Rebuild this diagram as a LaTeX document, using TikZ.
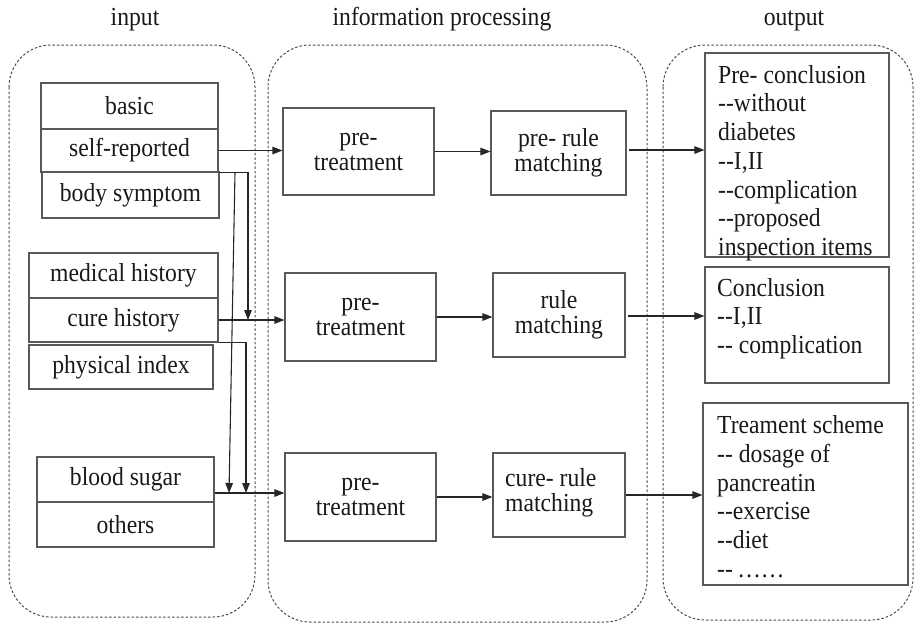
\documentclass[tikz,border=0pt]{standalone}
\usepackage{fontspec}
\setmainfont{Liberation Serif}[FakeStretch=0.91, Ligatures=TeXOff]
\usetikzlibrary{arrows.meta,calc}
\begin{document}
\begin{tikzpicture}[x=1pt,y=-1pt,
  font=\fontsize{26}{26}\selectfont,
  container/.style={draw=black!70, dash pattern=on 2.5pt off 2pt, line width=1pt, rounded corners=42pt},
  box/.style={draw=black!65, line width=1.1pt, inner sep=0pt, text=black!90},
  procbox/.style={box, align=center, font=\fontsize{26}{25}\selectfont},
  outtext/.style={anchor=north west, inner sep=0pt, align=left, text=black!90, font=\fontsize{26}{28.7}\selectfont},
  title/.style={anchor=base, inner sep=0pt, text=black!90},
  arr/.style={draw=black!85, line width=1.1pt, -{Triangle[length=10pt,width=7.5pt]}},
  ln/.style={draw=black!85, line width=1.1pt}
]
\useasboundingbox (0,0) rectangle (915,625);

% titles
\node[title] (tin) at (135,25) {input};
\node[title] (tproc) at (442,25) {information processing};
\node[title] (tout) at (794,25) {output};

% containers
\draw[container] (9,45) rectangle (255,617);
\draw[container] (268,45) rectangle (647,622);
\draw[container] (663,45) rectangle (913,620);

% input boxes
\node[box, minimum width=177pt, minimum height=46pt] (basic) at (129.5,106) {basic};
\node[box, minimum width=177pt, minimum height=43pt] (self) at (129.5,150.5) {self-reported};
\node[box, minimum width=177pt, minimum height=46pt] (body) at (130.5,195) {body symptom};
\node[box, minimum width=189pt, minimum height=45pt] (medical) at (123.5,275.5) {medical history};
\node[box, minimum width=189pt, minimum height=44pt] (cure) at (123.5,320) {cure history};
\node[box, minimum width=184pt, minimum height=44pt] (phys) at (121,367) {physical index};
\node[box, minimum width=177pt, minimum height=45pt] (blood) at (125.5,479.5) {blood sugar};
\node[box, minimum width=177pt, minimum height=45pt] (others) at (125.5,524.5) {others};

% processing boxes
\node[procbox, minimum width=151pt, minimum height=87pt] (pt1) at (358.5,151.5) {pre-\\treatment};
\node[procbox, minimum width=135pt, minimum height=84pt] (pr1) at (558.5,153) {pre- rule\\matching};
\node[procbox, minimum width=151pt, minimum height=88pt] (pt2) at (360.5,317) {pre-\\treatment};
\node[procbox, minimum width=132pt, minimum height=84pt] (rm2) at (559,315) {rule\\matching};
\node[procbox, minimum width=151pt, minimum height=88pt] (pt3) at (360.5,497) {pre-\\treatment};
\node[box, minimum width=132pt, minimum height=84pt] (cr3) at (559,495) {};
\node[outtext, anchor=west, font=\fontsize{26}{25}\selectfont] (cr3t) at (505,493) {cure- rule\\matching};

% output boxes
\node[box, minimum width=184pt, minimum height=204pt] (pc) at (797,155) {};
\node[box, minimum width=184pt, minimum height=116pt] (cc) at (797,325) {};
\node[box, minimum width=205pt, minimum height=182pt] (ts) at (805.5,494) {};
\node[outtext] (pct) at (718,65) {Pre- conclusion\\--without\\diabetes\\--I,II\\--complication\\--proposed\\inspection items};
\node[outtext] (cct) at (717,278) {Conclusion\\--I,II\\-- complication};
\node[outtext] (tst) at (717,415.5) {Treament scheme\\-- dosage of\\pancreatin\\--exercise\\--diet\\--\,\dots\dots};

% helper coordinates
\coordinate (b3) at ($(blood.east)+(0,13.5)$);
\coordinate (v1) at (248,0);
\coordinate (s1) at (235,172);
\coordinate (s1e) at (229,493);
\coordinate (v3) at (246,0);
\coordinate (r1) at ($(pr1.east)+(2,-3)$);
\coordinate (r2) at ($(rm2.east)+(2,1)$);

% row 1
\draw[arr] (self.east) -- (self.east -| pt1.west);
\draw[arr] (pt1.east) -- (pt1.east -| pr1.west);
\draw[arr] (r1) -- (r1 -| pc.west);

% row 2
\draw[arr] (cure.east) -- (cure.east -| pt2.west);
\draw[arr] (pt2.east) -- (pt2.east -| rm2.west);
\draw[arr] (r2) -- (r2 -| cc.west);

% row 3
\draw[arr] (b3) -- (b3 -| pt3.west);
\draw[arr] (pt3.east) -- (pt3.east -| cr3.west);
\draw[arr] (cr3.east) -- (cr3.east -| ts.west);

% vertical feeds
\draw[arr] (self.south east) -| (v1 |- cure.east);
\draw[arr] (s1) -- (s1e);
\draw[arr] (cure.south east) -| (v3 |- b3);
\end{tikzpicture}
\end{document}
